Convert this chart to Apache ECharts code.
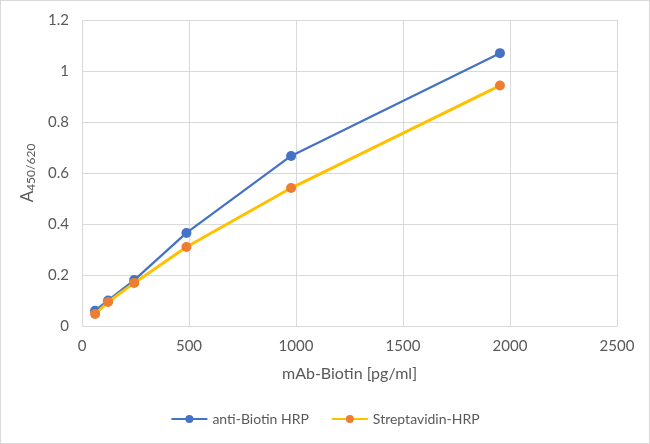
<!DOCTYPE html>
<html>
<head>
<meta charset="utf-8">
<script src="https://cdn.jsdelivr.net/npm/echarts@6/dist/echarts.min.js"></script>
<style>
  html, body { margin: 0; padding: 0; background: #fff; }
  #chart { width: 650px; height: 444px; box-sizing: border-box; border: 1px solid #d9d9d9; }
</style>
</head>
<body>
<div id="chart"></div>
<script>
var concentrations = [61, 122, 244, 488, 977, 1953];
var antiBiotin = [0.06, 0.10, 0.18, 0.365, 0.667, 1.07];
var streptavidin = [0.047, 0.094, 0.169, 0.31, 0.541, 0.943];
var seriesNames = ['anti-Biotin HRP', 'Streptavidin-HRP'];

function pairs(xs, ys) {
  return xs.map(function (x, i) { return [x, ys[i]]; });
}

var myChart = echarts.init(document.getElementById('chart'));
var textColor = '#595959';
var font = 'Lato, "Open Sans", sans-serif';

var option = {
  animation: false,
  textStyle: { fontFamily: font },
  grid: { left: 81, right: 32, top: 19, bottom: 117 },
  legend: {
    bottom: 12,
    left: 'center',
    itemWidth: 36,
    itemHeight: 10,
    itemGap: 22,
    textStyle: { color: textColor, fontSize: 14, fontFamily: font },
    data: seriesNames
  },
  xAxis: {
    type: 'value',
    min: 0, max: 2500, interval: 500,
    name: 'mAb-Biotin [pg/ml]',
    nameLocation: 'middle',
    nameGap: 40,
    nameTextStyle: { color: textColor, fontSize: 16, fontFamily: font },
    axisLine: { show: true, lineStyle: { color: '#d9d9d9' } },
    axisTick: { show: false },
    axisLabel: {
      color: textColor, fontSize: 15, margin: 13, fontFamily: font,
      formatter: function (v) { return String(v); }
    },
    splitLine: { show: true, lineStyle: { color: '#d9d9d9' } }
  },
  yAxis: {
    type: 'value',
    min: 0, max: 1.2, interval: 0.2,
    name: '{a|A}{s|450/620}',
    nameLocation: 'middle',
    nameGap: 45,
    nameMoveOverlap: false,
    nameRotate: 90,
    nameTextStyle: {
      color: textColor,
      fontFamily: font,
      rich: {
        a: { fontSize: 17, color: textColor, fontFamily: font },
        s: { fontSize: 12, color: textColor, fontFamily: font, verticalAlign: 'bottom', padding: [7, 0, 0, 0] }
      }
    },
    axisLine: { show: false },
    axisTick: { show: false },
    axisLabel: {
      color: textColor, fontSize: 15, margin: 13, fontFamily: font,
      formatter: function (v) { return String(Math.round(v * 10) / 10); }
    },
    splitLine: { show: true, lineStyle: { color: '#d9d9d9' } }
  },
  series: [
    {
      name: seriesNames[0],
      type: 'line',
      data: pairs(concentrations, antiBiotin),
      symbol: 'circle',
      symbolSize: 10,
      itemStyle: { color: '#4472C4' },
      lineStyle: { color: '#4472C4', width: 2.25 },
      z: 3
    },
    {
      name: seriesNames[1],
      type: 'line',
      data: pairs(concentrations, streptavidin),
      symbol: 'circle',
      symbolSize: 10,
      itemStyle: { color: '#ED7D31' },
      lineStyle: { color: '#FFC000', width: 3 },
      z: 4
    }
  ]
};

myChart.setOption(option);
</script>
</body>
</html>
